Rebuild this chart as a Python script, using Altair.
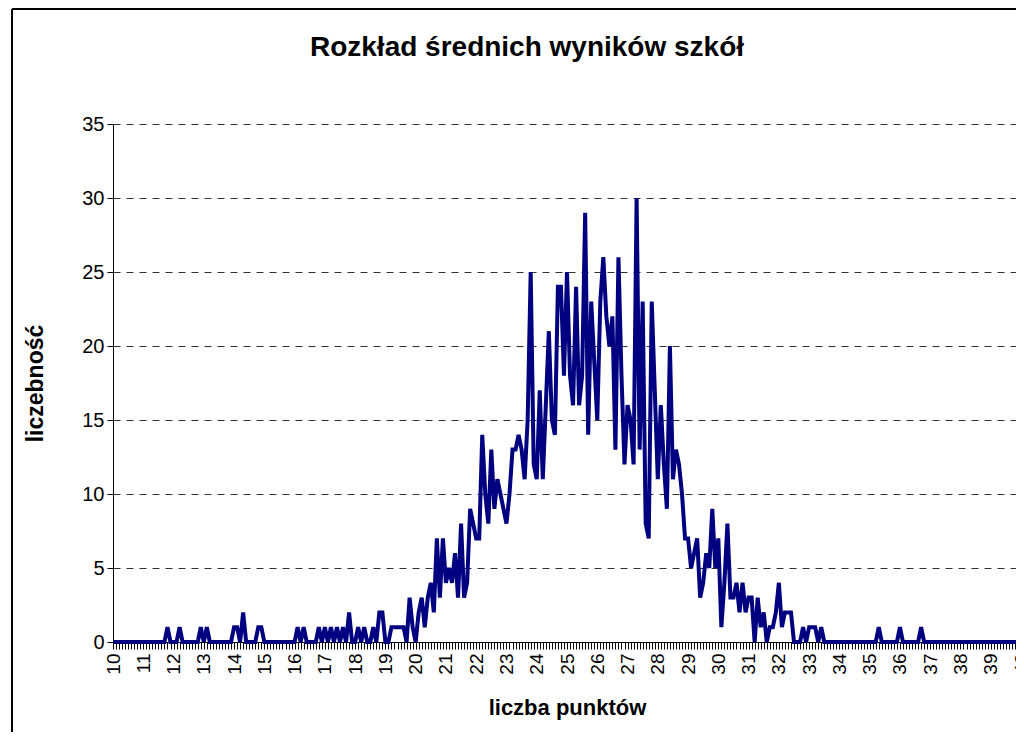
import altair as alt
import pandas as pd

# category labels of the x axis (score bins, 10.0 ... 40.0 every 0.1)
categories = [round(10 + i / 10, 1) for i in range(301)]

# number of schools in each bin
counts_10_to_20 = [
    0, 0, 0, 0, 0, 0, 0, 0, 0, 0,   # 10.0-10.9
    0, 0, 0, 0, 0, 0, 0, 0, 1, 0,   # 11.0-11.9
    0, 0, 1, 0, 0, 0, 0, 0, 0, 1,   # 12.0-12.9
    0, 1, 0, 0, 0, 0, 0, 0, 0, 0,   # 13.0-13.9
    1, 1, 0, 2, 0, 0, 0, 0, 1, 1,   # 14.0-14.9
    0, 0, 0, 0, 0, 0, 0, 0, 0, 0,   # 15.0-15.9
    0, 1, 0, 1, 0, 0, 0, 0, 1, 0,   # 16.0-16.9
    1, 0, 1, 0, 1, 0, 1, 0, 2, 0,   # 17.0-17.9
    0, 1, 0, 1, 0, 0, 1, 0, 2, 2,   # 18.0-18.9
    0, 0, 1, 1, 1, 1, 1, 0, 3, 1,   # 19.0-19.9
]
counts_20_to_30 = [
    0, 2, 3, 1, 3, 4, 2, 7, 3, 7,   # 20.0-20.9
    4, 5, 4, 6, 3, 8, 3, 4, 9, 8,   # 21.0-21.9
    7, 7, 14, 10, 8, 13, 9, 11, 10, 9,   # 22.0-22.9
    8, 10, 13, 13, 14, 13, 11, 15, 25, 12,   # 23.0-23.9
    11, 17, 11, 16, 21, 15, 14, 24, 24, 18,   # 24.0-24.9
    25, 18, 16, 24, 16, 18, 29, 14, 23, 19,   # 25.0-25.9
    15, 23, 26, 22, 20, 22, 13, 26, 18, 12,   # 26.0-26.9
    16, 15, 12, 30, 13, 23, 8, 7, 23, 17,   # 27.0-27.9
    11, 16, 12, 9, 20, 11, 13, 12, 10, 7,   # 28.0-28.9
    7, 5, 6, 7, 3, 4, 6, 5, 9, 5,   # 29.0-29.9
]
counts_30_to_40 = [
    7, 1, 4, 8, 3, 3, 4, 2, 4, 2,   # 30.0-30.9
    3, 3, 0, 3, 1, 2, 0, 1, 1, 2,   # 31.0-31.9
    4, 1, 2, 2, 2, 0, 0, 0, 1, 0,   # 32.0-32.9
    1, 1, 1, 0, 1, 0, 0, 0, 0, 0,   # 33.0-33.9
    0, 0, 0, 0, 0, 0, 0, 0, 0, 0,   # 34.0-34.9
    0, 0, 0, 1, 0, 0, 0, 0, 0, 0,   # 35.0-35.9
    1, 0, 0, 0, 0, 0, 0, 1, 0, 0,   # 36.0-36.9
    0, 0, 0, 0, 0, 0, 0, 0, 0, 0,   # 37.0-37.9
    0, 0, 0, 0, 0, 0, 0, 0, 0, 0,   # 38.0-38.9
    0, 0, 0, 0, 0, 0, 0, 0, 0, 0,   # 39.0-39.9
    0,                              # 40.0
]
counts = counts_10_to_20 + counts_20_to_30 + counts_30_to_40

y_ticks = [0, 5, 10, 15, 20, 25, 30, 35]

title_text = "Rozkład średnich wyników szkół"
x_title = "liczba punktów"
y_title = "liczebność"

FONT = "Liberation Sans"
PLOT_W, PLOT_H = 903, 518   # visible view (the page cuts the chart at the right)
X_RANGE = 908               # full length of the x axis, 10 -> 40

df = pd.DataFrame({"wynik": categories, "liczba": counts})

line = alt.Chart(df).mark_line(color="#000080", strokeWidth=4, strokeJoin="miter").encode(
    x=alt.X(
        "wynik:Q",
        scale=alt.Scale(domain=[10, 40], range=[0, X_RANGE], nice=False, zero=False),
        axis=alt.Axis(
            values=categories,
            labelExpr="abs(datum.value - round(datum.value)) < 0.01 ? format(datum.value, 'd') : ''",
            labelOverlap=False,
            labelAngle=270,
            labelFontSize=19,
            labelFont=FONT,
            labelColor="black",
            labelPadding=4,
            tickSize=7,
            tickColor="black",
            tickWidth=1,
            domainColor="black",
            domainWidth=1,
            grid=False,
            title=x_title,
            titleFont=FONT,
            titleFontSize=22,
            titleFontWeight="bold",
            titleColor="black",
            titleX=X_RANGE / 2,
            titleY=65,
            titleBaseline="middle",
        ),
    ),
    y=alt.Y(
        "liczba:Q",
        scale=alt.Scale(domain=[0, 35], nice=False),
        axis=alt.Axis(
            values=y_ticks,
            labelFontSize=20,
            labelFont=FONT,
            labelColor="black",
            labelPadding=3,
            tickSize=6,
            tickColor="black",
            domainColor="black",
            domainWidth=1,
            grid=True,
            gridColor="#333333",
            gridDash=[7, 6],
            gridWidth=1,
            title=y_title,
            titleFont=FONT,
            titleFontSize=23,
            titleFontWeight="bold",
            titleColor="black",
            titleX=-78,
            titleY=PLOT_H / 2,
            titleBaseline="middle",
        ),
    ),
)

one = pd.DataFrame({"a": [0]})
frame_left = alt.Chart(one).mark_rule(color="black", strokeWidth=2).encode(
    x=alt.value(-101), y=alt.value(-115), y2=alt.value(640)
)
frame_top = alt.Chart(one).mark_rule(color="black", strokeWidth=2).encode(
    x=alt.value(-101), x2=alt.value(960), y=alt.value(-115)
)
title = alt.Chart(one).mark_text(
    text=title_text,
    font=FONT,
    fontSize=28,
    fontWeight="bold",
    color="black",
    align="center",
    baseline="alphabetic",
).encode(x=alt.value(414), y=alt.value(-68))

chart = alt.layer(frame_left, frame_top, title, line).properties(
    width=PLOT_W,
    height=PLOT_H,
    autosize=alt.AutoSizeParams(type="none"),
    padding={"left": 105, "top": 116, "right": 0, "bottom": 90},
    background="white",
).configure_view(strokeWidth=0)

chart.save("out.html", embed_options={"renderer": "svg", "actions": False})
